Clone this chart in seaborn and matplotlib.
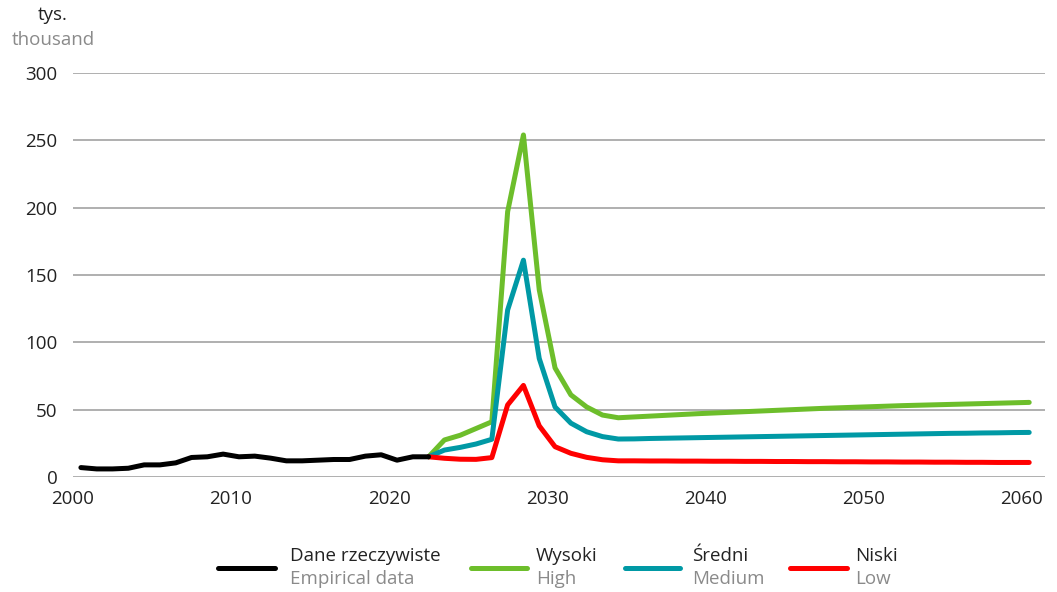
import numpy as np
import pandas as pd
import matplotlib
matplotlib.use("Agg")
import matplotlib.pyplot as plt
import seaborn as sns
from matplotlib.lines import Line2D

# ---- data ----
years_hist = list(range(2000, 2023))
hist = [7, 6, 6, 6.5, 9, 9, 10.5, 14.5, 15, 17, 15, 15.5, 14, 12, 12, 12.5, 13, 13,
        15.5, 16.5, 12.5, 15, 15]

years_proj = list(range(2022, 2061))
high = [15, 27.5, 31, 36, 41, 197, 254, 139, 81, 61, 52, 46, 44,
        44.6, 45.2, 45.8, 46.4, 47.0, 47.5, 48.0, 48.5, 49.0, 49.5, 50.0, 50.5, 51.0,
        51.4, 51.8, 52.2, 52.6, 53.0, 53.3, 53.6, 53.9, 54.2, 54.5, 54.8, 55.1, 55.4]
medium = [15, 20, 22, 24.5, 28, 124, 161, 88, 52, 40, 33.6, 30, 28.2,
          28.3, 28.6, 28.8, 29.0, 29.2, 29.4, 29.6, 29.8, 30.0, 30.2, 30.4, 30.6, 30.8,
          31.0, 31.2, 31.4, 31.6, 31.8, 32.0, 32.2, 32.4, 32.5, 32.7, 32.8, 33.0, 33.1]
low = [15, 13.9, 13.2, 13.1, 14.4, 53.5, 68, 38, 22.5, 17.6, 14.6, 12.8, 12.0,
       12.0, 11.9, 11.9, 11.8, 11.8, 11.7, 11.7, 11.6, 11.6, 11.5, 11.5, 11.4, 11.4,
       11.3, 11.3, 11.2, 11.2, 11.1, 11.1, 11.0, 11.0, 10.9, 10.9, 10.8, 10.8, 10.8]

labels_pl = ["Dane rzeczywiste", "Wysoki", "Średni", "Niski"]
labels_en = ["Empirical data", "High", "Medium", "Low"]
colors = ["#000000", "#6DBE2B", "#0099A5", "#FF0000"]

x_ticks = [2000, 2010, 2020, 2030, 2040, 2050, 2060]
y_ticks = [0, 50, 100, 150, 200, 250, 300]

# ---- long frame ----
frames = [pd.DataFrame({"year": years_hist, "value": hist, "series": "hist"})]
for name, vals in zip(["high", "medium", "low"], [high, medium, low]):
    frames.append(pd.DataFrame({"year": years_proj, "value": vals, "series": name}))
df = pd.concat(frames, ignore_index=True)
df["x"] = df["year"] + 0.5  # mid-year values

sns.set_theme(style="white")
plt.rcParams["font.family"] = ["Open Sans", "DejaVu Sans"]

fig = plt.figure(figsize=(10.57, 5.92), dpi=100)
ax = fig.add_axes([73 / 1057, 1 - 477 / 592, (1045 - 73) / 1057, (477 - 73) / 592])

for name, col in zip(["high", "medium", "low", "hist"],
                     [colors[1], colors[2], colors[3], colors[0]]):
    sub = df[df["series"] == name]
    sns.lineplot(data=sub, x="x", y="value", ax=ax, color=col, linewidth=3.6,
                 solid_capstyle="round", solid_joinstyle="round", legend=False,
                 estimator=None, sort=False)

for ln in ax.lines:
    ln.set_clip_on(False)

ax.set_xlim(2000, 2061.5)
ax.set_ylim(0, 300)
ax.set_xticks(x_ticks)
ax.set_yticks(y_ticks)
ax.set_xlabel("")
ax.set_ylabel("")
ax.grid(axis="y", color="#9a9a9a", linewidth=1.1)
ax.grid(axis="x", visible=False)
for s in ["left", "right", "top", "bottom"]:
    ax.spines[s].set_visible(False)
ax.tick_params(axis="both", length=0, labelsize=13.5, labelcolor="#222222")
ax.tick_params(axis="x", pad=9)
ax.tick_params(axis="y", pad=11)

fig.text(53 / 1057, 1 - 15 / 592, "tys.", ha="center", va="center",
         fontsize=13.5, color="#222222")
fig.text(53 / 1057, 1 - 40 / 592, "thousand", ha="center", va="center",
         fontsize=13.5, color="#8a8a8a")

# ---- legend ----
handle_x = [(218, 275), (471, 527), (625, 680), (790, 847)]
text_x = [290, 536, 692, 855]
for (x0, x1), tx, c, lp, le in zip(handle_x, text_x, colors, labels_pl, labels_en):
    fig.add_artist(Line2D([x0 / 1057, x1 / 1057], [1 - 568 / 592, 1 - 568 / 592],
                          color=c, linewidth=3.6, solid_capstyle="round",
                          transform=fig.transFigure))
    fig.text(tx / 1057, 1 - 556 / 592, lp, ha="left", va="center",
             fontsize=13.5, color="#222222")
    fig.text(tx / 1057, 1 - 579 / 592, le, ha="left", va="center",
             fontsize=13.5, color="#8a8a8a")

fig.savefig("out.png", dpi=100)
